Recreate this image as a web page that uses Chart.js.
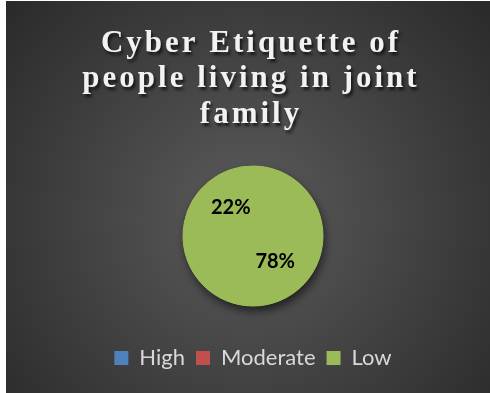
<!DOCTYPE html>
<html>
<head>
<meta charset="utf-8">
<script src="https://cdn.jsdelivr.net/npm/chart.js@4/dist/chart.umd.min.js"></script>
<style>
  html, body { margin: 0; padding: 0; background: #ffffff; }
  #wrap { position: absolute; left: 6px; top: 1px; width: 484px; height: 392px; }
</style>
</head>
<body>
<div id="wrap"><canvas id="chart-0"></canvas></div>
<script>
// chart data
var categories = ['High', 'Moderate', 'Low'];
var shares = [0, 22, 78];                        // percent of respondents
var legendColors = ['#4f81bd', '#c0504d', '#9bbb59'];
var sliceColors = ['#9bbb59', '#9bbb59', '#9bbb59'];
var titleLines = ['Cyber Etiquette of', 'people living in joint', 'family'];

var firstSliceAngle = 281; // degrees, like the "angle of first slice" setting

// dark radial backdrop behind everything
var backdrop = {
  id: 'backdrop',
  beforeDraw: function(chart) {
    var ctx = chart.ctx, w = chart.width, h = chart.height;
    var g = ctx.createRadialGradient(w / 2, h * 0.55, 10, w / 2, h * 0.55, w * 0.72);
    g.addColorStop(0, '#5a5a5a');
    g.addColorStop(1, '#262626');
    ctx.save();
    ctx.fillStyle = g;
    ctx.fillRect(0, 0, w, h);
    ctx.restore();
  }
};

// spaced serif title with a soft drop shadow
var titleBlock = {
  id: 'titleBlock',
  afterDraw: function(chart) {
    var ctx = chart.ctx;
    var baselines = [51, 86, 122];
    ctx.save();
    ctx.font = 'bold 31px "Liberation Serif", "Times New Roman", serif';
    ctx.letterSpacing = '3px';
    ctx.textAlign = 'center';
    ctx.textBaseline = 'alphabetic';
    ctx.fillStyle = '#f2f2f2';
    ctx.shadowColor = 'rgba(0,0,0,0.65)';
    ctx.shadowBlur = 3;
    ctx.shadowOffsetX = 2;
    ctx.shadowOffsetY = 3;
    titleLines.forEach(function(line, i) {
      ctx.fillText(line, chart.width / 2 + 3, baselines[i]);
    });
    ctx.restore();
  }
};

// shadow under the pie, then percent labels on top of it
var pieExtras = {
  id: 'pieExtras',
  beforeDatasetsDraw: function(chart) {
    var arc = chart.getDatasetMeta(0).data[0];
    var p = arc.getProps(['x', 'y', 'outerRadius'], true);
    var ctx = chart.ctx;
    ctx.save();
    ctx.shadowColor = 'rgba(0,0,0,0.6)';
    ctx.shadowBlur = 10;
    ctx.shadowOffsetX = 2;
    ctx.shadowOffsetY = 5;
    ctx.fillStyle = sliceColors[2];
    ctx.beginPath();
    ctx.arc(p.x, p.y, p.outerRadius, 0, Math.PI * 2);
    ctx.fill();
    ctx.restore();
  },
  afterDatasetsDraw: function(chart) {
    var ctx = chart.ctx;
    var meta = chart.getDatasetMeta(0);
    ctx.save();
    ctx.font = 'bold 20px Lato, "Open Sans", sans-serif';
    ctx.fillStyle = '#000000';
    ctx.textAlign = 'center';
    ctx.textBaseline = 'middle';
    meta.data.forEach(function(arc, i) {
      if (!shares[i]) return;
      var pos = arc.tooltipPosition();
      ctx.fillText(shares[i] + '%', pos.x, pos.y - 1);
    });
    ctx.restore();
  }
};

var chart0 = new Chart(document.getElementById('chart-0'), {
  type: 'pie',
  data: {
    labels: categories,
    datasets: [{
      data: shares,
      backgroundColor: sliceColors,
      borderColor: sliceColors,
      borderWidth: 1,
      radius: 70
    }]
  },
  options: {
    responsive: true,
    maintainAspectRatio: false,
    animation: false,
    rotation: firstSliceAngle,
    layout: { padding: { top: 135, bottom: 14, left: 10, right: 0 } },
    plugins: {
      tooltip: { enabled: false },
      title: { display: false },
      legend: {
        position: 'bottom',
        onClick: null,
        labels: {
          color: '#d9d9d9',
          font: { family: 'Lato, "Open Sans", sans-serif', size: 22 },
          boxWidth: 14,
          boxHeight: 14,
          padding: 11,
          generateLabels: function(chart) {
            return chart.data.labels.map(function(label, i) {
              return {
                text: label,
                fillStyle: legendColors[i],
                strokeStyle: legendColors[i],
                lineWidth: 0,
                fontColor: '#d9d9d9',
                hidden: false,
                index: i
              };
            });
          }
        }
      }
    }
  },
  plugins: [backdrop, pieExtras, titleBlock]
});
</script>
</body>
</html>
